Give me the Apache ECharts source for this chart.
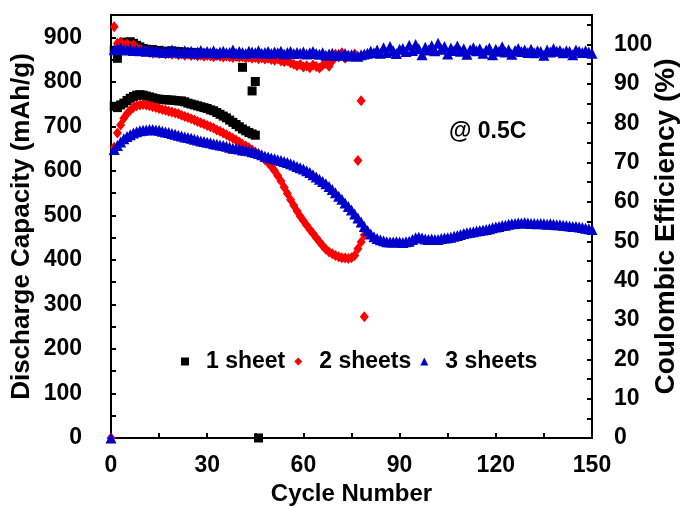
<!DOCTYPE html>
<html>
<head>
<meta charset="utf-8">
<script src="https://cdn.jsdelivr.net/npm/echarts@6/dist/echarts.min.js"></script>
<style>
  html, body { margin: 0; padding: 0; background: #fff; }
  #chart { width: 681px; height: 507px; }
</style>
</head>
<body>
<div id="chart"></div>
<script>
// capacity (mAh/g), cycle 1..46 (cycle 46 is the zero point on the axis)
const blackCap = [745, 742, 748, 752, 758, 763, 767, 770, 771, 770,
  768, 766, 764, 762, 761, 760, 760, 759, 759, 758,
  757, 757, 755, 752, 750, 748, 746, 744, 742, 740,
  737, 735, 731, 727, 723, 719, 714, 709, 704, 699,
  694, 690, 686, 683, 680, 0];
// coulombic efficiency (%), cycle 1..45
const blackCE = [98.5, 96.5, 100.2, 100.6, 100.4, 100.7, 100.3, 99.8, 99.4, 99.0,
  98.8, 98.6, 98.7, 98.4, 98.5, 98.2, 98.3, 98.1, 98.4, 98.0,
  98.2, 97.9, 98.1, 97.8, 98.0, 97.7, 97.9, 97.6, 97.8, 97.5,
  97.7, 97.4, 97.6, 97.3, 97.5, 97.2, 97.4, 97.1, 97.3, 97.0,
  94.2, 97.2, 96.9, 88.2, 90.6];

// 2 sheets, cycle 0..79
const redCap = [0, 653, 685, 703, 718, 728, 736, 742, 746, 748, 749,
  748, 746, 744, 742, 740, 738, 736, 734, 732, 730,
  728, 725, 722, 720, 717, 714, 711, 708, 705, 702,
  699, 696, 692, 689, 685, 681, 677, 673, 669, 665,
  660, 656, 652, 647, 642, 637, 631, 625, 618, 610,
  600, 589, 577, 563, 549, 535, 522, 510, 498, 488,
  478, 468, 459, 450, 441, 432, 424, 418, 414, 410,
  407, 405, 404, 403, 405, 410, 425, 440, 456];
// cycle 1..79
const redCE = [104.5, 100.3, 100.6, 99.8, 100.2, 99.5, 99.9, 99.2, 98.8, 98.5,
  98.3, 98.0, 97.8, 98.1, 97.7, 97.9, 97.6, 97.8, 97.5, 97.7,
  97.4, 97.6, 97.3, 97.5, 97.2, 97.4, 97.1, 97.3, 97.0, 97.2,
  97.1, 96.9, 97.2, 97.0, 96.8, 97.1, 96.9, 96.7, 97.0, 96.8,
  96.9, 96.6, 96.8, 96.5, 96.7, 96.4, 96.6, 96.3, 96.5, 96.2,
  96.0, 96.3, 95.8, 95.6, 95.9, 95.3, 95.0, 94.6, 94.9, 94.3,
  94.6, 94.1, 94.8, 94.4, 94.0, 94.7, 95.2, 94.5, 95.8, 97.5,
  96.8, 97.9, 96.5, 97.3, 96.9, 97.6, 70.5, 85.7, 30.8];

// 3 sheets, cycle 0..150
const blueCap = [0, 648, 657, 665, 672, 677, 681, 685, 688, 690, 691,
  692, 693, 693, 692, 691, 689, 687, 686, 684, 682,
  680, 678, 676, 675, 673, 671, 669, 667, 666, 664,
  663, 661, 660, 658, 657, 655, 653, 651, 650, 649,
  647, 646, 645, 643, 641, 639, 636, 633, 631, 629,
  627, 625, 623, 621, 619, 616, 613, 610, 607, 604,
  600, 596, 591, 586, 581, 576, 571, 565, 558, 551,
  543, 536, 528, 520, 512, 503, 494, 485, 475, 466,
  458, 452, 448, 445, 443, 441, 440, 440, 441, 440,
  439, 441, 442, 446, 450, 451, 449, 447, 446, 447,
  446, 446, 448, 449, 450, 451, 453, 455, 457, 459,
  461, 462, 463, 465, 466, 467, 468, 470, 472, 474,
  475, 477, 478, 480, 481, 482, 483, 483, 484, 483,
  482, 482, 481, 482, 481, 480, 481, 480, 479, 479,
  478, 477, 476, 475, 475, 474, 473, 471, 470, 468];
// cycle 1..150
const blueCE = [98.7, 98.9, 99.1, 98.8, 98.6, 98.9, 98.5, 98.7, 98.4, 98.6,
  98.3, 98.6, 98.2, 98.5, 98.1, 98.4, 98.0, 98.3, 98.6, 98.1,
  98.2, 97.9, 98.4, 98.0, 98.3, 97.8, 98.1, 98.5, 97.9, 98.2,
  98.0, 98.4, 97.8, 98.1, 98.3, 97.9, 98.0, 98.6, 97.8, 98.2,
  98.0, 97.7, 98.3, 98.1, 97.9, 98.4, 97.8, 98.0, 98.2, 97.7,
  98.1, 97.9, 98.3, 97.6, 98.0, 98.2, 97.7, 98.0, 97.8, 98.1,
  97.6, 97.9, 98.2, 97.7, 97.5, 97.9, 97.3, 97.6, 97.8, 97.2,
  97.5, 97.3, 97.7, 97.1, 97.4, 97.2, 97.0, 97.4, 97.6, 97.8,
  98.3, 97.9, 98.6, 97.8, 99.2, 98.0, 99.5, 98.4, 97.7, 98.8,
  99.0, 98.2, 99.8, 98.5, 100.0, 98.9, 97.4, 99.3, 98.6, 99.7,
  98.4, 100.3, 98.8, 99.5, 97.6, 99.1, 98.5, 99.6, 98.3, 98.9,
  97.5, 98.7, 99.2, 98.4, 98.9, 97.8, 98.6, 99.1, 97.4, 98.8,
  98.3, 99.4, 98.1, 98.7, 97.5, 98.5, 99.0, 98.2, 98.6, 98.0,
  98.8, 97.9, 98.4, 98.2, 97.3, 98.6, 98.1, 98.9, 98.3, 98.5,
  97.9, 98.4, 98.2, 97.4, 98.6, 98.3, 98.0, 98.4, 98.1, 97.8];

const seriesNames = ['1 sheet', '2 sheets', '3 sheets'];
const xTicks = [0, 150, 30];      // min, max, interval
const capTicks = [0, 950, 100];
const ceTicks = [0, 107.5, 10];

const FONT = '"Liberation Sans", Arial, sans-serif';
const toPts = (arr, start) => arr.map((v, i) => [i + start, v]);

const chart = echarts.init(document.getElementById('chart'));

const axisCommon = {
  nameMoveOverlap: false,
  axisLine: { show: true, onZero: false, lineStyle: { color: '#000', width: 2 } },
  axisTick: { show: true, inside: true, length: 5, lineStyle: { color: '#000', width: 2 } },
  minorTick: { show: true, splitNumber: 2, length: 5, lineStyle: { color: '#000', width: 2 } },
  splitLine: { show: false },
  minorSplitLine: { show: false },
  nameTextStyle: { fontFamily: FONT, fontWeight: 'bold', color: '#000' },
  axisLabel: { fontFamily: FONT, fontWeight: 'bold', fontSize: 23, color: '#000' }
};

const mk = (name, data, yIdx, symbol, size, color) => ({
  name: name,
  type: 'scatter',
  yAxisIndex: yIdx,
  data: data,
  symbol: symbol,
  symbolSize: size,
  itemStyle: { color: color, opacity: 1 },
  animation: false
});

const option = {
  animation: false,
  grid: {
    left: 111, right: 89, top: 15, bottom: 69,
    outerBoundsMode: 'none', containLabel: false,
    show: true, borderColor: '#000', borderWidth: 2
  },
  legend: {
    data: seriesNames,
    left: 176,
    top: 345,
    itemWidth: 8,
    itemHeight: 8,
    itemGap: 9,
    textStyle: { fontFamily: FONT, fontWeight: 'bold', fontSize: 23, color: '#000', padding: [0, 0, 0, 12] }
  },
  xAxis: Object.assign({}, axisCommon, {
    type: 'value',
    min: xTicks[0], max: xTicks[1], interval: xTicks[2],
    name: 'Cycle Number',
    nameLocation: 'middle',
    nameGap: 44,
    nameTextStyle: Object.assign({}, axisCommon.nameTextStyle, { fontSize: 24 }),
    axisLabel: Object.assign({}, axisCommon.axisLabel, { margin: 16 })
  }),
  yAxis: [
    Object.assign({}, axisCommon, {
      type: 'value', position: 'left',
      min: capTicks[0], max: capTicks[1], interval: capTicks[2],
      name: 'Discharge Capacity (mAh/g)',
      nameLocation: 'middle',
      nameGap: 76,
      nameRotate: 90,
      nameTextStyle: Object.assign({}, axisCommon.nameTextStyle, { fontSize: 26 }),
      axisLabel: Object.assign({}, axisCommon.axisLabel, { margin: 29, showMaxLabel: false })
    }),
    Object.assign({}, axisCommon, {
      type: 'value', position: 'right',
      min: ceTicks[0], max: ceTicks[1], interval: ceTicks[2],
      name: 'Coulombic Efficiency (%)',
      nameLocation: 'middle',
      nameGap: 60,
      nameRotate: 90,
      nameTextStyle: Object.assign({}, axisCommon.nameTextStyle, { fontSize: 28 }),
      axisLabel: Object.assign({}, axisCommon.axisLabel, { margin: 22, showMaxLabel: false })
    })
  ],
  graphic: [{
    type: 'text', left: 449, top: 120,
    style: { text: '@ 0.5C', font: 'bold 23px "Liberation Sans", Arial, sans-serif', fill: '#000' }
  }],
  series: [
    mk(seriesNames[0], toPts(blackCap, 1), 0, 'rect', 9, '#000000'),
    mk(seriesNames[0], toPts(blackCE, 1), 1, 'rect', 9, '#000000'),
    mk(seriesNames[1], toPts(redCap, 0), 0, 'diamond', [9, 11], '#ff0000'),
    mk(seriesNames[1], toPts(redCE, 1), 1, 'diamond', [9, 11], '#ff0000'),
    mk(seriesNames[2], toPts(blueCap, 0), 0, 'triangle', 11, '#0000cc'),
    mk(seriesNames[2], toPts(blueCE, 1), 1, 'triangle', 11, '#0000cc')
  ]
};

chart.setOption(option);
</script>
</body>
</html>
